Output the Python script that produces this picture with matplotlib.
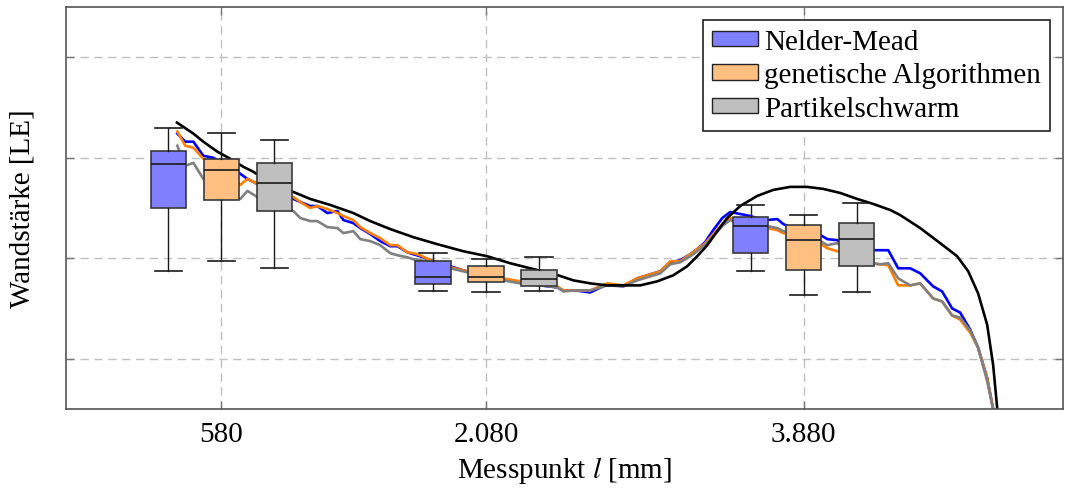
import matplotlib
matplotlib.use("Agg")
import matplotlib.pyplot as plt
from matplotlib.patches import Patch

plt.rcParams['font.family'] = ['Liberation Serif', 'DejaVu Serif']
plt.rcParams['mathtext.fontset'] = 'stix'

# Measurement positions (mm) for the optimised profiles
x_mess = [331, 376, 422, 478, 535, 592, 648, 688, 728, 784, 841, 914, 988, 1028,
          1084, 1124, 1181, 1238, 1272, 1328, 1368, 1425, 1481, 1538, 1578, 1634,
          1668, 1708, 1764, 1821, 1878, 1951, 2019, 2104, 2178, 2274, 2388, 2484,
          2518, 2586, 2671, 2767, 2858, 2937, 3011, 3068, 3124, 3181, 3238, 3277,
          3322, 3368, 3419, 3464, 3521, 3578, 3634, 3674, 3731, 3765, 3833, 3906,
          3968, 4014, 4070, 4144, 4201, 4269, 4314, 4360, 4416, 4484, 4541, 4614,
          4665, 4722, 4767, 4824, 4869, 4920, 4954, 4983]

y_nelder = [3.24, 3.16, 3.16, 3.02, 3.00, 2.94, 2.89, 2.84, 2.79, 2.74, 2.69, 2.63,
            2.59, 2.56, 2.52, 2.52, 2.45, 2.47, 2.38, 2.35, 2.30, 2.24, 2.17, 2.12,
            2.12, 2.06, 2.04, 2.02, 1.98, 1.95, 1.92, 1.88, 1.85, 1.82, 1.79, 1.76,
            1.73, 1.71, 1.68, 1.68, 1.66, 1.74, 1.72, 1.80, 1.84, 1.87, 1.96, 1.98,
            2.04, 2.09, 2.16, 2.28, 2.40, 2.46, 2.44, 2.42, 2.39, 2.38, 2.39, 2.34,
            2.29, 2.25, 2.24, 2.19, 2.18, 2.12, 2.09, 2.08, 2.08, 2.08, 1.90, 1.90,
            1.85, 1.72, 1.67, 1.50, 1.46, 1.29, 1.11, 0.81, 0.50, 0.32]

y_genetisch = [3.26, 3.12, 3.10, 2.99, 2.93, 2.87, 2.79, 2.73, 2.79, 2.74, 2.69, 2.64,
               2.61, 2.56, 2.50, 2.52, 2.49, 2.45, 2.42, 2.38, 2.31, 2.25, 2.20, 2.13,
               2.13, 2.06, 2.05, 2.03, 1.98, 1.94, 1.91, 1.88, 1.85, 1.82, 1.80, 1.77,
               1.74, 1.72, 1.68, 1.68, 1.68, 1.75, 1.73, 1.80, 1.84, 1.87, 1.97, 1.97,
               2.04, 2.09, 2.15, 2.24, 2.34, 2.40, 2.36, 2.32, 2.30, 2.30, 2.28, 2.25,
               2.22, 2.18, 2.15, 2.10, 2.07, 2.03, 1.99, 1.95, 1.94, 1.93, 1.73, 1.73,
               1.75, 1.60, 1.57, 1.43, 1.39, 1.26, 1.11, 0.81, 0.50, 0.32]

y_partikel = [3.12, 2.92, 2.95, 2.79, 2.74, 2.69, 2.63, 2.59, 2.67, 2.61, 2.56, 2.51,
              2.47, 2.40, 2.37, 2.37, 2.31, 2.30, 2.25, 2.27, 2.19, 2.17, 2.13, 2.05,
              2.03, 2.01, 1.99, 1.98, 1.96, 1.93, 1.90, 1.87, 1.84, 1.81, 1.78, 1.75,
              1.73, 1.71, 1.67, 1.68, 1.68, 1.73, 1.72, 1.78, 1.82, 1.85, 1.94, 1.96,
              2.02, 2.07, 2.14, 2.22, 2.32, 2.38, 2.35, 2.33, 2.31, 2.32, 2.30, 2.27,
              2.23, 2.20, 2.18, 2.13, 2.15, 2.05, 2.00, 1.95, 1.94, 1.95, 1.80, 1.73,
              1.75, 1.60, 1.57, 1.43, 1.41, 1.28, 1.11, 0.78, 0.50, 0.32]

# Reference wall-thickness profile
x_soll = [329, 422, 478, 558, 631, 705, 762, 841, 988, 1084, 1198, 1328, 1424, 1538,
          1668, 1804, 1951, 2087, 2218, 2331, 2473, 2575, 2671, 2767, 2858, 2954,
          3050, 3141, 3220, 3277, 3334, 3391, 3447, 3521, 3617, 3708, 3804, 3900,
          3991, 4087, 4184, 4275, 4371, 4427, 4541, 4654, 4750, 4813, 4869, 4920,
          4954, 4977, 4994]
y_soll = [3.35, 3.24, 3.16, 3.06, 2.99, 2.91, 2.86, 2.77, 2.66, 2.59, 2.53, 2.45,
          2.37, 2.29, 2.21, 2.14, 2.07, 2.02, 1.95, 1.90, 1.84, 1.78, 1.75, 1.73,
          1.73, 1.73, 1.77, 1.83, 1.92, 2.02, 2.13, 2.27, 2.40, 2.52, 2.62, 2.68,
          2.71, 2.71, 2.69, 2.65, 2.59, 2.54, 2.48, 2.43, 2.30, 2.15, 2.02, 1.87,
          1.65, 1.34, 0.94, 0.51, 0.22]

# Box plot statistics at the three evaluation points (NM, GA, PSO per point)
box_pos = [280, 580, 880, 1780, 2080, 2380, 3580, 3880, 4180]
box_whislo = [1.874, 1.977, 1.904, 1.676, 1.660, 1.670, 1.878, 1.634, 1.663]
box_q1 = [2.502, 2.577, 2.468, 1.746, 1.759, 1.723, 2.050, 1.888, 1.918]
box_med = [2.941, 2.878, 2.752, 1.809, 1.809, 1.795, 2.324, 2.185, 2.195]
box_q3 = [3.066, 2.987, 2.950, 1.973, 1.924, 1.888, 2.413, 2.327, 2.347]
box_whishi = [3.294, 3.248, 3.175, 2.050, 1.993, 2.013, 2.525, 2.429, 2.545]

tick_pos = [580, 2080, 3880]
tick_labels = ["580", "2.080", "3.880"]
methods = ["Nelder-Mead", "genetische Algorithmen", "Partikelschwarm"]

line_colors = ["#0000ff", "#ff8000", "#808080"]
face_colors = ["#8080ff", "#ffbf80", "#bfbfbf"]

FS = 21

fig = plt.figure(figsize=(10.71, 4.89), dpi=100)
ax = fig.add_axes([66 / 1071, 1 - 410 / 489, (1063 - 66) / 1071, (410 - 8) / 489])

for ys, c in zip([y_nelder, y_genetisch, y_partikel], line_colors):
    ax.plot(x_mess, ys, color=c, lw=1.9, zorder=2)
ax.plot(x_soll, y_soll, color="black", lw=1.9, zorder=2)

stats = []
for lo, q1, med, q3, hi in zip(box_whislo, box_q1, box_med, box_q3, box_whishi):
    stats.append(dict(med=med, q1=q1, q3=q3, whislo=lo, whishi=hi, fliers=[]))

for i in range(3):
    bp = ax.bxp(stats[i::3], positions=box_pos[i::3], widths=200, capwidths=155,
                patch_artist=True, showfliers=False, manage_ticks=False,
                boxprops=dict(facecolor=face_colors[i], edgecolor="#3a3a3a", linewidth=1.2),
                medianprops=dict(color="#1a1a1a", linewidth=1.2),
                whiskerprops=dict(color="#1a1a1a", linewidth=1.0),
                capprops=dict(color="#1a1a1a", linewidth=1.2))
    for k in bp:
        for art in bp[k]:
            art.set_zorder(3)

ax.set_xlim(-300, 5350)
ax.set_ylim(0.5, 4.5)
ax.set_xticks(tick_pos)
ax.set_xticklabels(tick_labels, fontsize=FS)
ax.set_yticks([1, 2, 3, 4])
ax.set_yticklabels([])
ax.tick_params(direction="in", length=6, width=1, color="#777777",
               top=True, right=True, pad=9)
for s in ax.spines.values():
    s.set_color("#555555")
    s.set_linewidth(1.2)
ax.grid(True, color="#c0c0c0", linestyle=(0, (6, 4)), linewidth=1.0, zorder=0)
ax.set_axisbelow(True)

ax.set_xlabel(r"Messpunkt $l$ [mm]", fontsize=FS, labelpad=5)
ax.set_ylabel("Wandstärke [LE]", fontsize=FS)
ax.yaxis.set_label_coords(-0.031, 0.5)

handles = [Patch(facecolor=fc, edgecolor="#222222", linewidth=1.0) for fc in face_colors]
leg = ax.legend(handles, methods, loc="upper right", fontsize=FS, fancybox=False,
                framealpha=1, edgecolor="#222222", borderpad=0.3, labelspacing=0.26,
                handlelength=1.6, handleheight=0.45, handletextpad=0.2,
                borderaxespad=0.45)
leg.get_frame().set_linewidth(1.2)

fig.savefig("out.png", dpi=100)
